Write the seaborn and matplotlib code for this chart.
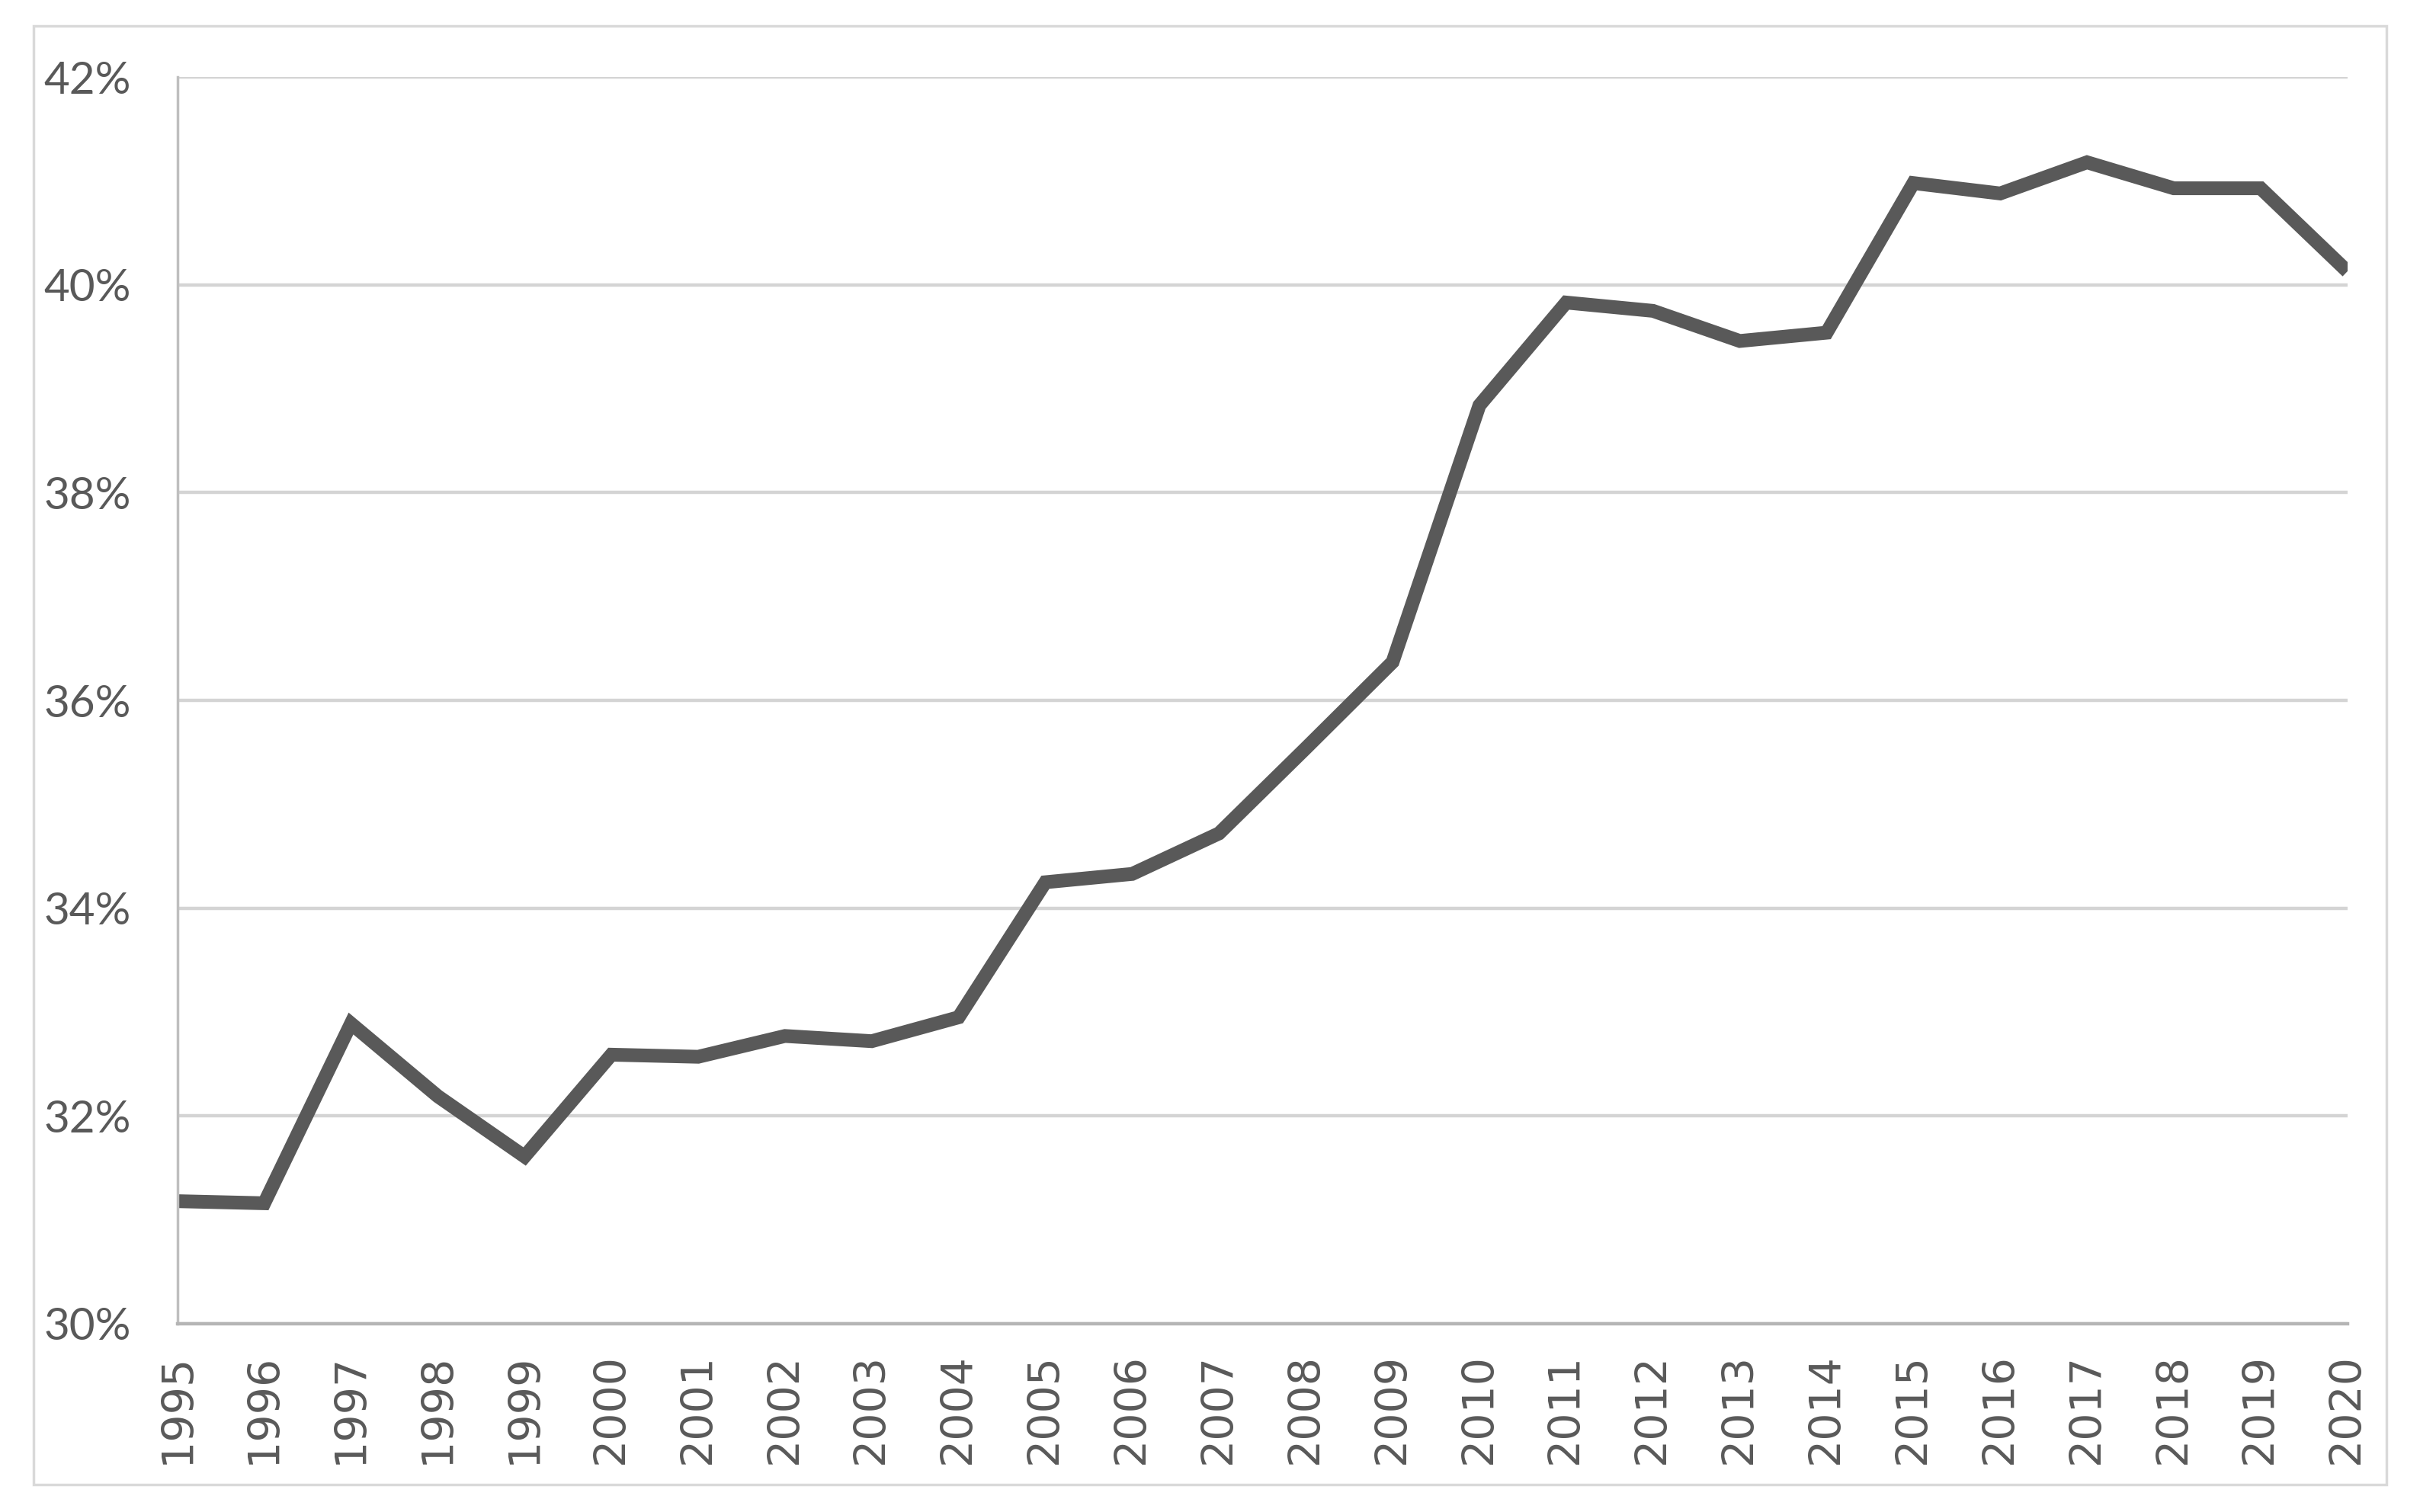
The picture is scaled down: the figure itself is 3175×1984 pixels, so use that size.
import pandas as pd
import seaborn as sns
import matplotlib.pyplot as plt
from matplotlib.patches import Rectangle
from matplotlib.ticker import FuncFormatter

# values (percent)
years = list(range(1995, 2021))
share = [31.18, 31.16, 32.89, 32.19, 31.61, 32.59, 32.57, 32.77, 32.72, 32.95,
         34.25, 34.33, 34.72, 35.54, 36.37, 38.84, 39.83, 39.75, 39.46, 39.54,
         40.98, 40.88, 41.18, 40.93, 40.93, 40.13]
y_ticks = [30, 32, 34, 36, 38, 40, 42]

df = pd.DataFrame({"Year": years, "Share": share})

sns.set_style("white")
plt.rcParams['font.family'] = ['Lato', 'DejaVu Sans']

fig = plt.figure(figsize=(31.75, 19.84), dpi=100)
ax = fig.add_axes([0.0733, 0.1245, 0.8967, 0.8245])

sns.lineplot(data=df, x="Year", y="Share", ax=ax, color="#595959",
             linewidth=13, solid_capstyle="butt", solid_joinstyle="miter")

ax.set_xlim(1995, 2020)
ax.set_ylim(30, 42)
ax.set_yticks(y_ticks)
ax.set_xticks(years)
ax.yaxis.set_major_formatter(FuncFormatter(lambda v, p: f"{v:.0f}%"))
ax.set_xlabel("")
ax.set_ylabel("")

ax.yaxis.grid(True, color="#d4d4d4", linewidth=3.2)
ax.set_axisbelow(True)
for side in ["top", "right"]:
    ax.spines[side].set_visible(False)
ax.spines["left"].set_color("#bfbfbf")
ax.spines["left"].set_linewidth(2.5)
ax.spines["bottom"].set_color("#b5b5b5")
ax.spines["bottom"].set_linewidth(3.2)

ax.tick_params(axis="y", length=0, pad=44, labelsize=42, labelcolor="#595959")
ax.tick_params(axis="x", length=0, pad=28, labelsize=41, labelcolor="#595959")
for lbl in ax.get_xticklabels():
    lbl.set_rotation(90)
    lbl.set_family("DejaVu Sans")

# outer chart border
fig.patches.append(Rectangle((0.014, 0.018), 0.972, 0.965, transform=fig.transFigure,
                             fill=False, edgecolor="#d9d9d9", linewidth=2.5))

fig.savefig("out.png", dpi=100, facecolor="white")
